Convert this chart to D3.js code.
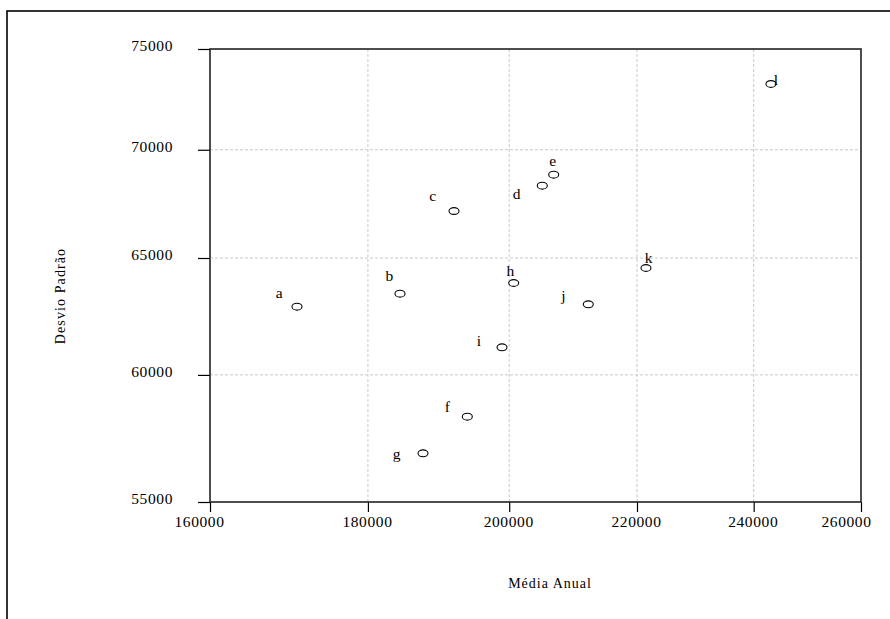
<!DOCTYPE html>
<html><head><meta charset="utf-8">
<script src="https://cdn.jsdelivr.net/npm/d3@7"></script>
<style>
body{margin:0;background:#fff;}
text{font-family:"Liberation Serif","Times New Roman",serif;fill:#000;}
</style></head>
<body><svg id="c" width="890" height="619"></svg>
<script>
const labels = ["a","b","c","d","e","f","g","h","i","j","k","l"];
const mediaAnual = [170725,184357,191933,204997,206747,193846,187546,200669,198928,212150,221478,243117];
const desvioPadrao = [62869,63430,67125,68298,68815,58308,56865,63897,61145,62972,64557,73225];
const labelX = [168486,182891,188907,201118,206594,190976,183903,200160,195544,208233,221925,244022];
const labelY = [63474,64248,67865,67944,69477,58709,56865,64468,61410,63374,65031,73426];
const xTicks = [160000,180000,200000,220000,240000,260000];
const yTicks = [55000,60000,65000,70000,75000];
const xTitle = "Média Anual";
const yTitle = "Desvio Padrão";

const svg = d3.select("#c");
const L=210,R=861,T=49,B=502;
const x = d3.scaleLog().domain([160000,260000]).range([L,R]);
const y = d3.scaleLog().domain([55000,75000]).range([B,T]);

// outer frame
svg.append("rect").attr("x",7).attr("y",11).attr("width",1000).attr("height",1000)
  .attr("fill","none").attr("stroke","#000").attr("stroke-width",1.6);

// grid
svg.append("g").selectAll("line").data(xTicks.slice(1,-1)).join("line")
  .attr("x1",d=>x(d)).attr("x2",d=>x(d)).attr("y1",T).attr("y2",B)
  .attr("stroke","#c8c8c8").attr("stroke-dasharray","3,2");
svg.append("g").selectAll("line").data(yTicks.slice(1,-1)).join("line")
  .attr("y1",d=>y(d)).attr("y2",d=>y(d)).attr("x1",L).attr("x2",R)
  .attr("stroke","#c8c8c8").attr("stroke-dasharray","3,2");

// axes
const xa = svg.append("g").attr("transform",`translate(0,${B})`)
  .call(d3.axisBottom(x).tickValues(xTicks).tickFormat(d3.format("d")).tickSize(10).tickPadding(4));
const ya = svg.append("g").attr("transform",`translate(${L},0)`)
  .call(d3.axisLeft(y).tickValues(yTicks).tickFormat(d3.format("d")).tickSize(12).tickPadding(25));
[xa,ya].forEach(g=>{
  g.select(".domain").remove();
  g.selectAll(".tick line").attr("stroke","#000").attr("stroke-width",1.2);
  g.selectAll("text").style("font-family",'"Liberation Serif",serif').style("font-size","15.5px")
    .style("letter-spacing","0.6px").attr("fill","#000");
});
xa.selectAll(".tick text").attr("dx",(d,i)=> i===0?-11:(i===xTicks.length-1?-15:-1));
ya.selectAll(".tick text").attr("dy","0.1em");

// plot box
svg.append("rect").attr("x",L).attr("y",T).attr("width",R-L).attr("height",B-T)
  .attr("fill","none").attr("stroke","#222").attr("stroke-width",1.6);

// points
svg.append("g").selectAll("ellipse").data(mediaAnual).join("ellipse")
  .attr("cx",d=>x(d)).attr("cy",(d,i)=>y(desvioPadrao[i]))
  .attr("rx",5).attr("ry",3.4).attr("fill","none").attr("stroke","#000").attr("stroke-width",1.1);

// point labels
svg.append("g").selectAll("text").data(labels).join("text")
  .attr("x",(d,i)=>x(labelX[i])).attr("y",(d,i)=>y(labelY[i]))
  .attr("text-anchor","middle").attr("dominant-baseline","central")
  .style("font-size","15.5px").text(d=>d);

// titles
svg.append("text").attr("x",550).attr("y",583).attr("text-anchor","middle")
  .attr("dominant-baseline","central").style("font-size","14px").style("letter-spacing","1px").text(xTitle);
svg.append("text").attr("transform","translate(60,296) rotate(-90)").attr("text-anchor","middle")
  .attr("dominant-baseline","central").style("font-size","14px").style("letter-spacing","1.1px").text(yTitle);
</script></body></html>
